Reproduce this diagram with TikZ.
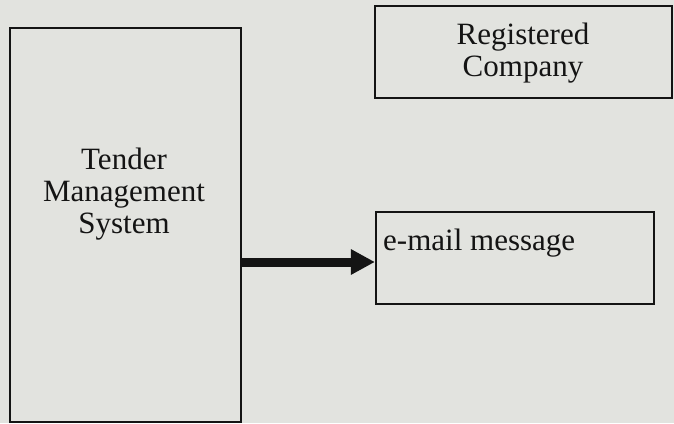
\documentclass[tikz,border=0pt]{standalone}
\usepackage{fontspec}
\setmainfont{Liberation Serif}
\usetikzlibrary{arrows.meta}
\definecolor{bg}{RGB}{226,227,223}
\definecolor{ink}{RGB}{20,20,20}
\tikzset{
  boxstyle/.style={draw=ink, line width=2.2pt, fill=bg, inner sep=0pt},
  lbl/.style={font=\fontsize{31}{32}\selectfont, text=ink, align=center},
}
\begin{document}
\begin{tikzpicture}[x=1pt,y=-1pt]
\fill[bg] (0,0) rectangle (674,423);
\useasboundingbox (0,0) rectangle (674,423);
\node[boxstyle, minimum width=231pt, minimum height=394pt] (tms) at (125.5,225) {};
\node[lbl] (tmst) at (124,194) {Tender\\Management\\System};
\node[boxstyle, minimum width=297pt, minimum height=92pt] (rc) at (523.5,52) {};
\node[lbl] (rct) at (523,53) {Registered\\Company};
\node[boxstyle, minimum width=278pt, minimum height=92pt] (em) at (515,258) {};
\node[lbl, anchor=west, inner sep=0pt] (emt) at (383,243) {e-mail message};
\draw[ink, line width=9pt, -{Triangle[length=24pt,width=24pt]}] (tms.east |- 0,262) -- (em.west |- 0,262);
\end{tikzpicture}
\end{document}
